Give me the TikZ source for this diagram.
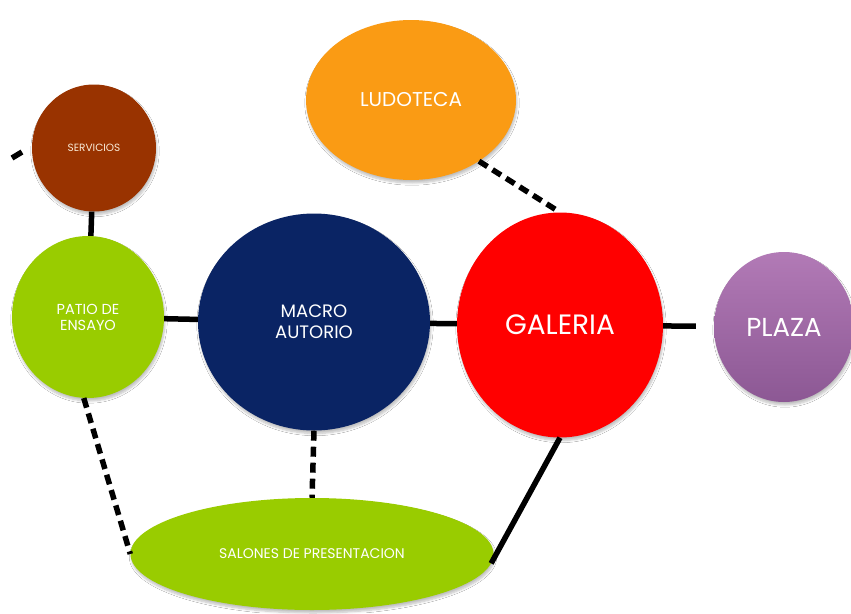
\documentclass[tikz,border=0pt]{standalone}
\usepackage{fontspec}
\setmainfont{Poppins}
\usetikzlibrary{shapes.geometric,shadows.blur}
\definecolor{cserv}{RGB}{153,51,0}
\definecolor{cludo}{RGB}{250,155,20}
\definecolor{cgreen}{RGB}{153,204,0}
\definecolor{cnavy}{RGB}{10,36,100}
\definecolor{cred}{RGB}{255,0,0}
\definecolor{cplazatop}{RGB}{178,122,182}
\definecolor{cplazabot}{RGB}{140,88,148}
\definecolor{ctextlight}{RGB}{250,235,215}
\tikzset{
  bubble/.style={ellipse, inner sep=0pt, text=white, align=center,
    blur shadow={shadow xshift=1pt, shadow yshift=-3pt, shadow opacity=25, shadow blur steps=6}},
  solidlink/.style={line width=5.5pt, draw=black},
  dashlink/.style={line width=5.5pt, draw=black, dash pattern=on 10pt off 6pt},
}
\begin{document}
\begin{tikzpicture}[x=1pt,y=-1pt]
\useasboundingbox (0,0) rectangle (851,613);
\fill[white] (0,0) rectangle (851,613);
\node[bubble, fill=cserv, text=ctextlight, minimum width=124pt, minimum height=127pt, font=\fontsize{10.5}{12}\selectfont] (serv) at (94,148) {SERVICIOS};
\node[bubble, fill=cludo, minimum width=210pt, minimum height=160pt, font=\fontsize{20}{24}\selectfont] (ludo) at (411,100) {LUDOTECA};
\node[bubble, fill=cgreen, minimum width=152pt, minimum height=162pt, font=\fontsize{14.5}{16}\selectfont] (patio) at (88,317) {PATIO DE\\ENSAYO};
\node[bubble, fill=cnavy, minimum width=232pt, minimum height=217pt, font=\fontsize{18}{21}\selectfont] (macro) at (314,322) {MACRO\\AUTORIO};
\node[bubble, fill=cred, minimum width=206pt, minimum height=225pt, font=\fontsize{28}{32}\selectfont] (gal) at (560,325) {GALERIA};
\node[bubble, top color=cplazatop, bottom color=cplazabot, minimum width=140pt, minimum height=150pt, font=\fontsize{26}{30}\selectfont] (plaza) at (784,327) {PLAZA};
\node[bubble, fill=cgreen, minimum width=363pt, minimum height=112pt, font=\fontsize{14}{16}\selectfont] (sal) at (312,554) {SALONES DE PRESENTACION};
\coordinate (stubA) at (12,158);
\coordinate (stubB) at (22,152);
\draw[solidlink] (stubA) -- (stubB);
\draw[solidlink] (serv) -- (patio);
\draw[solidlink] (patio) -- (macro);
\draw[solidlink] (macro) -- (gal);
\draw[solidlink, shorten >=18pt] (gal) -- (plaza);
\draw[dashlink] (ludo.-42) -- (gal.north);
\draw[dashlink] (macro.south) -- (sal.north);
\draw[dashlink] (patio.-93) -- (sal.west);
\draw[solidlink] (gal.south) -- (sal.-3);
\end{tikzpicture}
\end{document}
